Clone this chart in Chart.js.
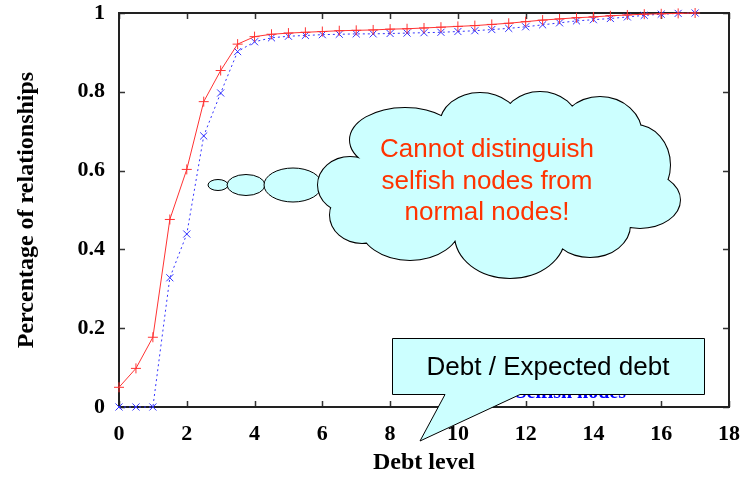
<!DOCTYPE html>
<html lang="en">
<head>
    <meta charset="UTF-8">
    <title>Debt level</title>
    <style>
        body {
            margin: 0;
            background: #ffffff;
        }
        #chartContainer {
            width: 746px;
            height: 481px;
        }
    </style>
</head>
<body>

<div id="chartContainer">
    <canvas id="debtChart" width="746" height="481"></canvas>
</div>

<script src="https://cdn.jsdelivr.net/npm/chart.js"></script>
<script>
    // debt levels (x), every 0.5 from 0 to 17
    const debtLevels = [0, 0.5, 1, 1.5, 2, 2.5, 3, 3.5, 4, 4.5, 5, 5.5, 6, 6.5, 7, 7.5, 8, 8.5,
        9, 9.5, 10, 10.5, 11, 11.5, 12, 12.5, 13, 13.5, 14, 14.5, 15, 15.5, 16, 16.5, 17];
    const normalNodes = [0.05, 0.098, 0.177, 0.476, 0.603, 0.775, 0.854, 0.921, 0.940, 0.946, 0.949,
        0.951, 0.953, 0.955, 0.956, 0.957, 0.959, 0.960, 0.962, 0.964, 0.966, 0.968, 0.971, 0.974,
        0.978, 0.982, 0.985, 0.988, 0.990, 0.993, 0.995, 0.997, 0.998, 0.999, 1.0];
    const selfishNodes = [0, 0, 0, 0.328, 0.439, 0.688, 0.797, 0.902, 0.927, 0.937, 0.941,
        0.943, 0.945, 0.946, 0.947, 0.947, 0.948, 0.949, 0.950, 0.951, 0.953, 0.955, 0.958, 0.961,
        0.965, 0.970, 0.975, 0.980, 0.983, 0.986, 0.990, 0.994, 0.997, 0.999, 1.0];
    const seriesNames = ['Normal nodes', 'Selfish nodes'];
    const xTicks = [0, 2, 4, 6, 8, 10, 12, 14, 16, 18];
    const yTicks = [0, 0.2, 0.4, 0.6, 0.8, 1];
    const cloudLines = ['Cannot distinguish', 'selfish nodes from', 'normal nodes!'];
    const calloutText = 'Debt / Expected debt';

    const serif = "'Liberation Serif', 'Times New Roman', serif";
    const sans = "'Liberation Sans', Arial, sans-serif";

    function toPoints(values) {
        return debtLevels.map((x, i) => ({ x: x, y: values[i] }));
    }

    // frame + inward ticks, gnuplot style
    const framePlugin = {
        id: 'frame',
        beforeDatasetsDraw(chart) {
            const ctx = chart.ctx;
            const a = chart.chartArea;
            const xs = chart.scales.x;
            const ys = chart.scales.y;
            ctx.save();
            ctx.strokeStyle = '#333333';
            ctx.lineWidth = 1.5;
            ctx.beginPath();
            xTicks.forEach(v => {
                const px = Math.round(xs.getPixelForValue(v)) + 0.5;
                ctx.moveTo(px, a.bottom); ctx.lineTo(px, a.bottom - 6);
                ctx.moveTo(px, a.top); ctx.lineTo(px, a.top + 6);
            });
            yTicks.forEach(v => {
                const py = Math.round(ys.getPixelForValue(v)) + 0.5;
                ctx.moveTo(a.left, py); ctx.lineTo(a.left + 6, py);
                ctx.moveTo(a.right, py); ctx.lineTo(a.right - 6, py);
            });
            ctx.stroke();
            ctx.lineWidth = 2;
            ctx.strokeStyle = '#222222';
            ctx.strokeRect(a.left, a.top, a.right - a.left, a.bottom - a.top);
            ctx.restore();
        }
    };

    function ellipse(ctx, cx, cy, rx, ry) {
        ctx.moveTo(cx + rx, cy);
        ctx.ellipse(cx, cy, rx, ry, 0, 0, Math.PI * 2);
    }

    // legend text (mostly hidden) + thought cloud + callout
    const notesPlugin = {
        id: 'notes',
        afterDraw(chart) {
            const ctx = chart.ctx;
            ctx.save();

            // key, bottom right (covered by the callout)
            ctx.font = 'bold 20px ' + serif;
            ctx.textAlign = 'right';
            ctx.textBaseline = 'alphabetic';
            ctx.fillStyle = '#ff0000';
            ctx.fillText(seriesNames[0], 626, 376);
            ctx.fillStyle = '#0000ff';
            ctx.fillText(seriesNames[1], 626, 398);

            // small thought bubbles
            const bubbles = [[218, 185, 10, 5.5], [246, 185, 19, 10.5], [293, 185, 29, 17]];
            ctx.lineWidth = 1;
            ctx.strokeStyle = '#000000';
            ctx.fillStyle = '#ccffff';
            bubbles.forEach(b => {
                ctx.beginPath();
                ellipse(ctx, b[0], b[1], b[2], b[3]);
                ctx.fill();
                ctx.stroke();
            });

            // cloud: stroke all bumps, then fill them all
            const bumps = [
                [405, 140, 55, 32], [480, 125, 40, 32], [540, 124, 38, 32], [600, 135, 42, 38],
                [635, 165, 35, 40], [640, 200, 40, 28], [590, 225, 40, 32], [510, 235, 55, 43],
                [410, 225, 50, 35], [350, 185, 32, 28], [362, 215, 32, 28]
            ];
            ctx.lineWidth = 2;
            ctx.beginPath();
            bumps.forEach(b => ellipse(ctx, b[0], b[1], b[2], b[3]));
            ctx.stroke();
            ctx.beginPath();
            bumps.forEach(b => ellipse(ctx, b[0], b[1], b[2], b[3]));
            ellipse(ctx, 490, 182, 140, 60);
            ctx.fill();

            ctx.font = '26px ' + sans;
            ctx.textAlign = 'center';
            ctx.fillStyle = '#ff3300';
            cloudLines.forEach((t, i) => ctx.fillText(t, 487, 157 + i * 31.5));

            // rectangular callout with pointer
            ctx.beginPath();
            ctx.moveTo(392.5, 338.5);
            ctx.lineTo(704.5, 338.5);
            ctx.lineTo(704.5, 394.5);
            ctx.lineTo(520, 394.5);
            ctx.lineTo(420, 441);
            ctx.lineTo(445, 394.5);
            ctx.lineTo(392.5, 394.5);
            ctx.closePath();
            ctx.fillStyle = '#ccffff';
            ctx.fill();
            ctx.lineWidth = 1;
            ctx.stroke();

            ctx.font = '26px ' + sans;
            ctx.fillStyle = '#000000';
            ctx.fillText(calloutText, 548, 375);
            ctx.restore();
        }
    };

    const ctx = document.getElementById('debtChart').getContext('2d');
    new Chart(ctx, {
        type: 'line',
        data: {
            datasets: [{
                label: seriesNames[0],
                data: toPoints(normalNodes),
                borderColor: '#ff3333',
                borderWidth: 1,
                pointStyle: 'cross',
                pointRadius: 5,
                pointBorderColor: '#ff3333',
                pointBorderWidth: 1,
                tension: 0,
                clip: false
            }, {
                label: seriesNames[1],
                data: toPoints(selfishNodes),
                borderColor: '#3333ff',
                borderWidth: 1,
                borderDash: [2, 3],
                pointStyle: 'crossRot',
                pointRadius: 5,
                pointBorderColor: '#3333ff',
                pointBorderWidth: 1,
                tension: 0,
                clip: false
            }]
        },
        options: {
            responsive: false,
            animation: false,
            layout: {
                padding: 0
            },
            plugins: {
                legend: { display: false },
                tooltip: { enabled: false }
            },
            scales: {
                x: {
                    type: 'linear',
                    min: 0,
                    max: 18,
                    afterFit(scale) {
                        scale.height = 74;
                        scale.paddingLeft = 0;
                        scale.paddingRight = 17;
                    },
                    afterBuildTicks(scale) { scale.ticks = xTicks.map(v => ({ value: v })); },
                    grid: { display: false, drawTicks: false },
                    border: { display: false },
                    ticks: {
                        padding: 14,
                        color: '#000000',
                        font: { family: serif, size: 22, weight: 'bold' }
                    },
                    title: {
                        display: true,
                        text: 'Debt level',
                        color: '#000000',
                        padding: { top: 0, bottom: 4 },
                        font: { family: serif, size: 24, weight: 'bold' }
                    }
                },
                y: {
                    min: 0,
                    max: 1,
                    afterFit(scale) {
                        scale.width = 119;
                        scale.paddingTop = 13;
                        scale.paddingBottom = 0;
                    },
                    afterBuildTicks(scale) { scale.ticks = yTicks.map(v => ({ value: v })); },
                    grid: { display: false, drawTicks: false },
                    border: { display: false },
                    ticks: {
                        padding: 14,
                        color: '#000000',
                        font: { family: serif, size: 22, weight: 'bold' },
                        callback: v => (v === 0 || v === 1) ? String(v) : v.toFixed(1)
                    },
                    title: {
                        display: true,
                        text: 'Percentage of relationships',
                        color: '#000000',
                        padding: { top: 12, bottom: 0 },
                        font: { family: serif, size: 24, weight: 'bold' }
                    }
                }
            }
        },
        plugins: [framePlugin, notesPlugin]
    });
</script>

</body>
</html>
